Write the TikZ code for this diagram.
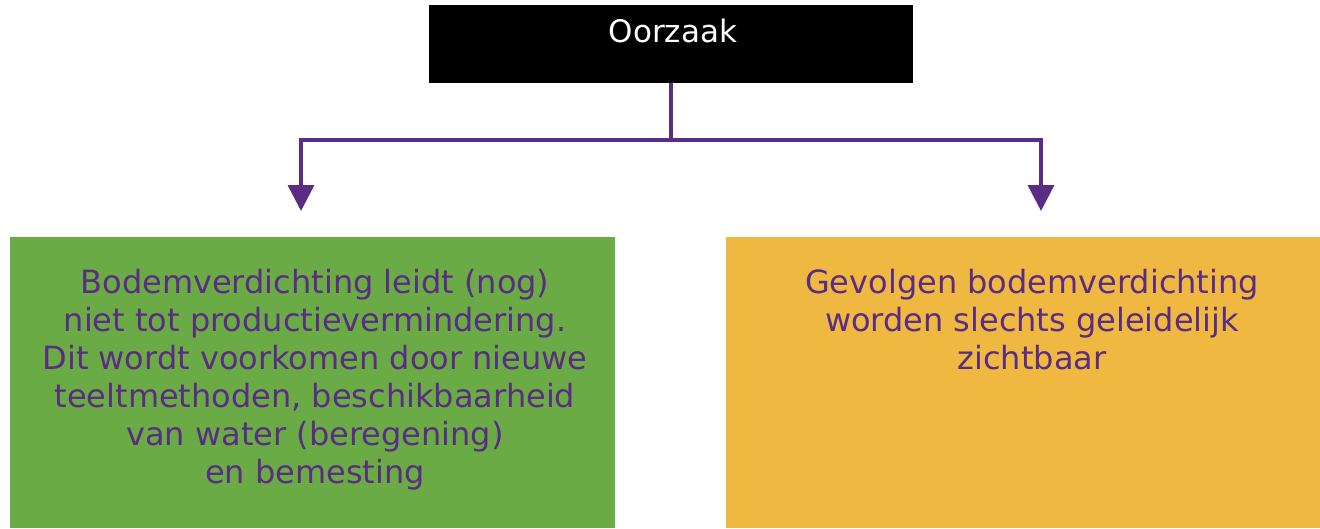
\documentclass[tikz,border=0pt]{standalone}
\usepackage{fontspec}
\setmainfont{DejaVu Sans}
\usetikzlibrary{arrows.meta}
\definecolor{boxgreen}{HTML}{6AAB45}
\definecolor{boxgold}{HTML}{EFB840}
\definecolor{purp}{HTML}{5B2C83}
\tikzset{
  panel/.style={draw=none, inner sep=0pt, anchor=north west},
  bodytext/.style={text=purp, align=center, inner sep=0pt, anchor=north,
    font=\fontsize{32}{38}\selectfont},
  arr/.style={draw=purp, line width=3.5pt, -{Triangle[width=26pt,length=26pt]}}
}
\begin{document}
\begin{tikzpicture}[x=1pt,y=-1pt]
\useasboundingbox (0,0) rectangle (1320,528);
\node[panel, fill=black, minimum width=484pt, minimum height=78pt] (top) at (429,5) {};
\node[text=white, anchor=base, inner sep=0pt, font=\fontsize{31}{38}\selectfont] (toplbl) at (673,42) {Oorzaak};
\node[panel, fill=boxgreen, minimum width=605pt, minimum height=291pt] (left) at (10,237) {};
\node[panel, fill=boxgold, minimum width=594pt, minimum height=291pt] (right) at (726,237) {};
\node[bodytext] (ltext) at (315,269) {Bodemverdichting leidt (nog)\\niet tot productievermindering.\\Dit wordt voorkomen door nieuwe\\teeltmethoden, beschikbaarheid\\van water (beregening)\\en bemesting};
\node[bodytext] (rtext) at (1032,269) {Gevolgen bodemverdichting\\worden slechts geleidelijk\\zichtbaar};
\coordinate (j) at (671,140);
\coordinate (t1) at (301,211);
\coordinate (t2) at (1041,211);
\draw[arr] (top.south -| j) -- (j) -| (t1);
\draw[arr] (j) -| (t2);
\end{tikzpicture}
\end{document}
